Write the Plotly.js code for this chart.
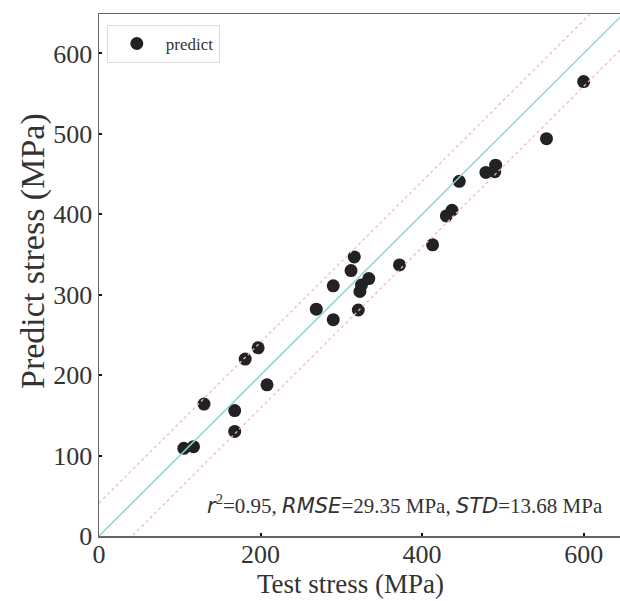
<!DOCTYPE html>
<html>
<head>
<meta charset="utf-8">
<script src="https://cdn.plot.ly/plotly-3.0.1.min.js"></script>
<style>html,body{margin:0;padding:0;background:#fff;}#chart{width:620px;height:601px;}</style>
</head>
<body>
<div id="chart"></div>
<script>
// Data
const testStress    = [105, 117, 130, 168, 168, 181, 197, 208, 269, 290, 290, 312, 316, 321, 323, 325, 334, 372, 413, 430, 437, 446, 479, 490, 491, 554, 600];
const predictStress = [109, 111, 164, 156, 130, 220, 234, 188, 282, 311, 269, 330, 347, 281, 304, 312, 320, 337, 362, 398, 405, 441, 452, 453, 461, 494, 565];
const refLineX = [0, 700];
const bandOffset = 41;
const xTicks = [0, 200, 400, 600];
const yTicks = [0, 100, 200, 300, 400, 500, 600];
const statsText = ['0.95', '29.35', '13.68'];
const xTitle = 'Test stress (MPa)';
const yTitle = 'Predict stress (MPa)';

const serif = '"Liberation Serif", "Times New Roman", serif';
const sans = "'DejaVu Sans', sans-serif";

const traces = [
  {
    x: testStress, y: predictStress, type: 'scatter', mode: 'markers', name: 'predict',
    marker: {color: '#222222', size: 13, line: {width: 0}},
    showlegend: true
  },
  {
    x: refLineX, y: refLineX.map(v => v), type: 'scatter', mode: 'lines',
    line: {color: '#93d3d3', width: 1.5}, showlegend: false, hoverinfo: 'skip'
  },
  {
    x: refLineX, y: refLineX.map(v => v + bandOffset), type: 'scatter', mode: 'lines',
    line: {color: '#f2b8c6', width: 1.3, dash: 'dot'}, showlegend: false, hoverinfo: 'skip'
  },
  {
    x: refLineX, y: refLineX.map(v => v - bandOffset), type: 'scatter', mode: 'lines',
    line: {color: '#f2b8c6', width: 1.3, dash: 'dot'}, showlegend: false, hoverinfo: 'skip'
  }
];

function it(s) { return '<span style="font-family:' + sans + '"><i>' + s + '</i></span>'; }

const layout = {
  width: 620, height: 601,
  margin: {l: 99, r: 0, t: 14, b: 65},
  paper_bgcolor: '#fff', plot_bgcolor: '#fff',
  font: {family: serif, color: '#333'},
  showlegend: true,
  legend: {
    x: 0.015, y: 0.979, xanchor: 'left', yanchor: 'top',
    bordercolor: '#dddddd', borderwidth: 1, bgcolor: '#fff',
    itemwidth: 48,
    font: {family: serif, size: 17, color: '#333'}
  },
  xaxis: {
    range: [0, 645], tickvals: xTicks, ticktext: xTicks.map(String),
    showgrid: false, zeroline: false,
    showline: true, linecolor: '#666', linewidth: 1.5, mirror: true,
    ticks: 'inside', ticklen: 3, tickwidth: 2, tickcolor: '#111',
    ticklabelstandoff: -6,
    tickfont: {family: serif, size: 26, color: '#333'}
  },
  yaxis: {
    range: [0, 649], tickvals: yTicks, ticktext: yTicks.map(String),
    showgrid: false, zeroline: false,
    showline: true, linecolor: '#666', linewidth: 1.5, mirror: false,
    ticks: 'inside', ticklen: 3, tickwidth: 2, tickcolor: '#111',
    tickfont: {family: serif, size: 26, color: '#333'}
  },
  annotations: [
    {
      xref: 'paper', yref: 'paper', x: 0.2035, y: 0.06, xanchor: 'left', yanchor: 'middle',
      showarrow: false,
      text: it('r') + '<sup>2</sup>=' + statsText[0] + ', ' + it('RMSE') + '=' + statsText[1] +
            ' MPa, ' + it('STD') + '=' + statsText[2] + ' MPa',
      font: {family: serif, size: 21, color: '#333'}
    },
    {
      xref: 'paper', yref: 'paper', x: (350 - 99) / 521, y: -(584 - 536) / 522,
      xanchor: 'center', yanchor: 'middle', showarrow: false,
      text: xTitle, font: {family: serif, size: 27, color: '#333'}
    },
    {
      xref: 'paper', yref: 'paper', x: -(99 - 33) / 521, y: (536 - 251) / 522,
      xanchor: 'center', yanchor: 'middle', showarrow: false, textangle: -90,
      text: yTitle, font: {family: serif, size: 34, color: '#333'}
    }
  ]
};

Plotly.newPlot('chart', traces, layout, {displayModeBar: false, staticPlot: true});
</script>
</body>
</html>
